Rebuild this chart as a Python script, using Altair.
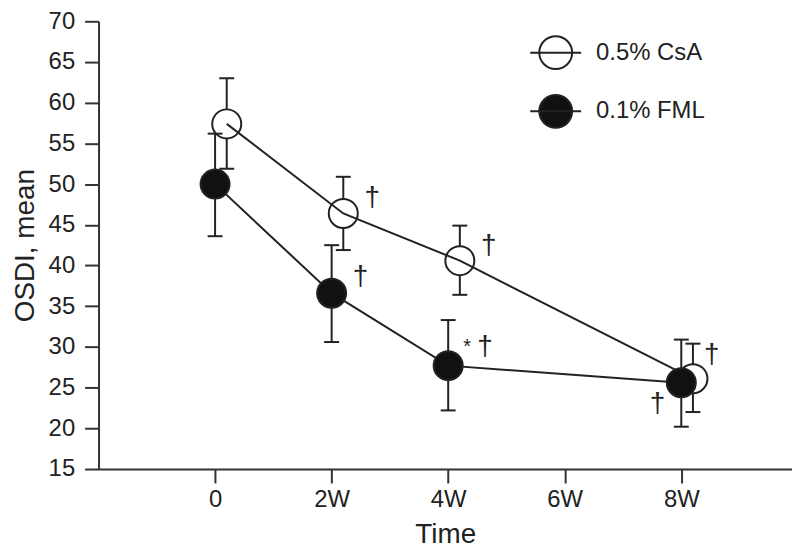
import altair as alt
import pandas as pd

# ---- data ----
weeks = [0, 2, 4, 8]
series_names = ["0.5% CsA", "0.1% FML"]

csa_mean = [57.4, 46.4, 40.6, 26.1]
csa_upper = [63.0, 50.9, 44.9, 30.4]
csa_lower = [51.9, 41.9, 36.4, 22.0]
csa_dagger = ["", "†", "†", "†"]
csa_star = ["", "", "", ""]

fml_mean = [50.0, 36.6, 27.7, 25.6]
fml_upper = [56.2, 42.5, 33.3, 30.9]
fml_lower = [43.6, 30.6, 22.2, 20.2]
fml_dagger = ["", "†", "†", "†"]
fml_star = ["", "", "*", ""]

y_ticks = [15, 20, 25, 30, 35, 40, 45, 50, 55, 60, 65, 70]
x_ticks = [0, 2, 4, 6, 8]
x_tick_labels = ["0", "2W", "4W", "6W", "8W"]

# horizontal dodge of each series (in weeks)
dodge = {"0.5% CsA": 0.2, "0.1% FML": 0.0}

rows = []
for name, m, up, lo, dg, st in [
    ("0.5% CsA", csa_mean, csa_upper, csa_lower, csa_dagger, csa_star),
    ("0.1% FML", fml_mean, fml_upper, fml_lower, fml_dagger, fml_star),
]:
    for w, mv, uv, lv, d, s in zip(weeks, m, up, lo, dg, st):
        rows.append({"series": name, "week": w, "xpos": w + dodge[name],
                     "mean": mv, "upper": uv, "lower": lv, "dagger": d, "star": s})
df = pd.DataFrame(rows)

FONT = "Liberation Sans"
INK = "#222222"

label_expr = " : ".join(
    [f"datum.value == {v} ? '{t}'" for v, t in zip(x_ticks, x_tick_labels)] + ["''"]
)

W, H = 697, 450
xscale = alt.Scale(domain=[-2, 9.9], nice=False, zero=False)
yscale = alt.Scale(domain=[15, 70], nice=False, zero=False)
xaxis = alt.Axis(values=x_ticks, labelExpr=label_expr, title="Time",
                 labelPadding=5, titleY=74, titleBaseline="alphabetic")
yaxis = alt.Axis(values=y_ticks, title="OSDI, mean", labelPadding=10,
                 titleX=-65, titleY=H / 2, titleBaseline="alphabetic",
                 titleAlign="center", titleAngle=270)

def X(f="xpos"):
    return alt.X(f"{f}:Q", scale=xscale, axis=xaxis)

def Y(f="mean"):
    return alt.Y(f"{f}:Q", scale=yscale, axis=yaxis)

base = alt.Chart(df)
is_csa = alt.datum.series == "0.5% CsA"
is_fml = alt.datum.series == "0.1% FML"

legend_path = "M-1.55,0L1.55,0M-1,0A1,1,0,1,1,1,0A1,1,0,1,1,-1,0"
fill_enc = alt.Fill(
    "series:N",
    scale=alt.Scale(domain=series_names, range=["white", "#111111"]),
    legend=alt.Legend(
        title=None, orient="none", legendX=442, legendY=14,
        symbolType=legend_path, symbolSize=1089, symbolStrokeColor=INK,
        symbolStrokeWidth=2, symbolOpacity=1, labelFont=FONT, labelFontSize=24,
        labelColor=INK, labelOffset=23, rowPadding=18, padding=0,
    ),
)

def err_layers(cond):
    rule = base.transform_filter(cond).mark_rule(color=INK, strokeWidth=2).encode(
        x=X(), y=Y("lower"), y2="upper:Q")
    cap_hi = base.transform_filter(cond).mark_tick(
        orient="horizontal", size=15, thickness=2, color=INK, opacity=1
    ).encode(x=X(), y=Y("upper"))
    cap_lo = base.transform_filter(cond).mark_tick(
        orient="horizontal", size=15, thickness=2, color=INK, opacity=1
    ).encode(x=X(), y=Y("lower"))
    return [rule, cap_hi, cap_lo]

def pts(cond):
    return base.transform_filter(cond).mark_point(
        shape="circle", filled=True, size=850, stroke=INK, strokeWidth=2, opacity=1
    ).encode(x=X(), y=Y(), fill=fill_enc)

lines = base.mark_line(color=INK, strokeWidth=2).encode(
    x=X(), y=Y(), detail="series:N")

def sig_text(cond, field, dx, dy, size):
    return base.transform_filter(cond).mark_text(
        font=FONT, fontSize=size, color=INK, dx=dx, dy=dy, align="center",
        baseline="middle"
    ).encode(x=X(), y=Y(), text=f"{field}:N")

ann = [
    sig_text(is_csa & ((alt.datum.week == 2) | (alt.datum.week == 4)), "dagger", 29, -15, 28),
    sig_text(is_csa & (alt.datum.week == 8), "dagger", 19, -24, 28),
    sig_text(is_fml & (alt.datum.week == 2), "dagger", 29, -16, 28),
    sig_text(is_fml & (alt.datum.week == 4), "dagger", 37, -19, 28),
    sig_text(is_fml & (alt.datum.week == 4), "star", 19, -19, 20),
    sig_text(is_fml & (alt.datum.week == 8), "dagger", -24, 21, 28),
]

chart = alt.layer(
    *err_layers(is_csa),
    pts(is_csa),
    lines,
    *err_layers(is_fml),
    pts(is_fml),
    *ann,
).properties(
    width=W, height=H,
    padding={"left": 91, "top": 12, "right": 0, "bottom": 79},
    autosize=alt.AutoSizeParams(type="none"),
).configure_view(stroke=None).configure_axis(
    grid=False, domainColor="#333333", domainWidth=2, tickColor="#333333",
    tickWidth=2, tickSize=14, labelFont=FONT, labelFontSize=24, labelColor=INK,
    titleFont=FONT, titleFontSize=28, titleFontWeight="normal", titleColor=INK,
)

chart.save("out.html", embed_options={"renderer": "svg", "actions": False})
